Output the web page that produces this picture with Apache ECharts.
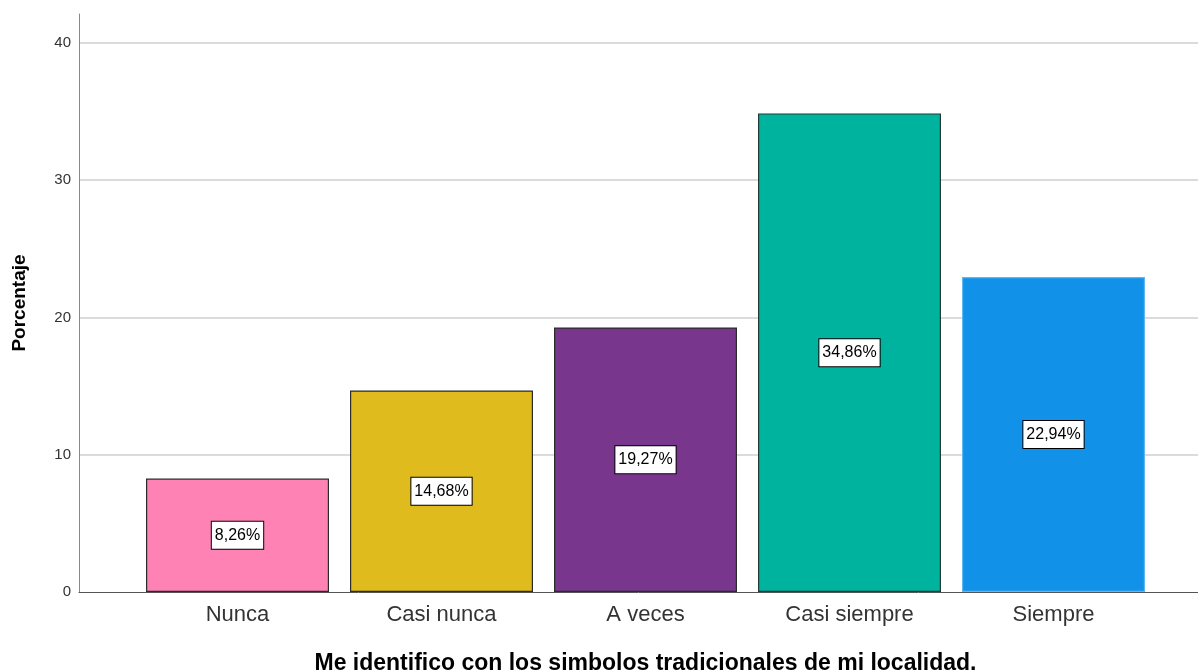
<!DOCTYPE html>
<html>
<head>
<meta charset="utf-8">
<script src="https://cdn.jsdelivr.net/npm/echarts@6/dist/echarts.min.js"></script>
<style>html,body{margin:0;padding:0;background:#fff}#c{width:1198px;height:672px}</style>
</head>
<body>
<div id="c"></div>
<script>
const categories = ['Nunca', 'Casi nunca', 'A veces', 'Casi siempre', 'Siempre'];
const percentages = [8.26, 14.68, 19.27, 34.86, 22.94];
const barColors = ['#FE83B4', '#E0BB1D', '#78378C', '#00B39F', '#1191E8'];
const barBorders = ['#2b2b2b', '#2b2b2b', '#2b2b2b', '#1f3b36', '#5fb6f2'];
const yTicks = [0, 10, 20, 30, 40];

const font = 'Liberation Sans, Arial, sans-serif';
const chart = echarts.init(document.getElementById('c'));
chart.setOption({
  animation: false,
  backgroundColor: '#fff',
  grid: [
    { left: 79, right: 0, top: 14, bottom: 80, containLabel: false, outerBoundsMode: 'none' },
    { left: 135.5, right: 42.5, top: 14, bottom: 80, containLabel: false, outerBoundsMode: 'none' }
  ],
  xAxis: [
    { type: 'value', gridIndex: 0, min: 0, max: 1, show: true,
      axisLine: { show: true, onZero: false, lineStyle: { color: '#555', width: 1 } },
      axisTick: { show: false }, axisLabel: { show: false }, splitLine: { show: false } },
    { type: 'category', gridIndex: 1, data: categories,
      axisLine: { show: false }, axisTick: { show: false },
      axisLabel: { fontFamily: font, fontSize: 22, color: '#333', margin: 12 },
      name: 'Me identifico con los simbolos tradicionales de mi localidad.',
      nameLocation: 'middle', nameGap: 60,
      nameTextStyle: { fontFamily: font, fontSize: 23, fontWeight: 'bold', color: '#000' } }
  ],
  yAxis: [
    { type: 'value', gridIndex: 0, min: 0, max: 42.1, interval: 10,
      axisLine: { show: true, lineStyle: { color: '#888', width: 1 } },
      axisTick: { show: false },
      axisLabel: { fontFamily: font, fontSize: 15, color: '#333', margin: 8,
        showMaxLabel: false,
        formatter: v => (yTicks.indexOf(v) >= 0 ? String(v) : '') },
      splitLine: { show: true, showMinLine: false, showMaxLine: false, lineStyle: { color: '#cfcfcf', width: 1.5 } },
      name: 'Porcentaje', nameLocation: 'middle', nameGap: 50, nameRotate: 90,
      nameTextStyle: { fontFamily: font, fontSize: 19, fontWeight: 'bold', color: '#000' } },
    { type: 'value', gridIndex: 1, min: 0, max: 42.1, interval: 10, show: false,
      splitLine: { show: false } }
  ],
  series: [{
    type: 'bar', xAxisIndex: 1, yAxisIndex: 1,
    barWidth: 183,
    data: percentages.map((v, i) => ({
      value: v,
      itemStyle: { color: barColors[i], borderColor: barBorders[i], borderWidth: 1.2 }
    })),
    label: {
      show: true, position: 'inside',
      formatter: p => p.value.toFixed(2).replace('.', ',') + '%',
      fontFamily: font, fontSize: 16, color: '#000',
      backgroundColor: '#fff', borderColor: '#000', borderWidth: 1,
      padding: [6, 3, 5, 3]
    }
  }]
});
</script>
</body>
</html>
